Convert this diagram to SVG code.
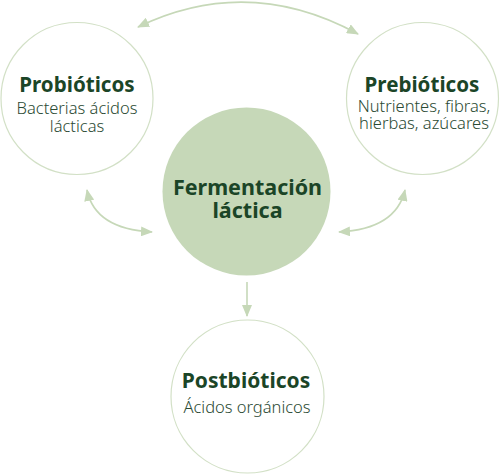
<svg xmlns="http://www.w3.org/2000/svg" width="500" height="475" viewBox="0 0 500 475">
<style>
.ring{fill:#ffffff;stroke:#d2e0c6;stroke-width:1.2}
.core{fill:#c6d8b8}
.title{font-family:"Noto Sans","Open Sans",sans-serif;font-weight:700;fill:#1b4527;text-anchor:middle}
.sub{font-family:"Noto Sans","Open Sans",sans-serif;font-weight:300;fill:#2b4a33;text-anchor:middle;font-size:16.5px}
.conn{fill:none;stroke:#c6d8b8;stroke-width:1.6}
</style>
<defs>
<marker id="ah" viewBox="0 0 12 10" refX="11" refY="5" markerWidth="12" markerHeight="10" markerUnits="userSpaceOnUse" orient="auto-start-reverse">
<path d="M0,0 L12,5 L0,10 z" fill="#c6d8b8"/>
</marker>
</defs>
<g id="connectors">
<path class="conn" d="M138,27 Q248,-26 358,34" marker-start="url(#ah)" marker-end="url(#ah)"/>
<path class="conn" d="M87,190 Q95,229 152,232" marker-start="url(#ah)" marker-end="url(#ah)"/>
<path class="conn" d="M405,190 Q396,229 339,232" marker-start="url(#ah)" marker-end="url(#ah)"/>
<path class="conn" d="M247,282 L247,316" marker-end="url(#ah)"/>
</g>
<g id="probioticos">
<circle class="ring" cx="77" cy="98.5" r="76"/>
<text class="title" x="77" y="92" font-size="20.6">Probióticos</text>
<text class="sub" x="77" y="114">Bacterias ácidos</text>
<text class="sub" x="77" y="132">lácticas</text>
</g>
<g id="prebioticos">
<circle class="ring" cx="422.5" cy="98.5" r="76"/>
<text class="title" x="422" y="92" font-size="20.6">Prebióticos</text>
<text class="sub" x="424" y="112">Nutrientes, fibras,</text>
<text class="sub" x="424" y="129">hierbas, azúcares</text>
</g>
<g id="fermentacion">
<circle class="core" cx="246.5" cy="191.5" r="84"/>
<text class="title" x="247.5" y="195" font-size="21.5">Fermentación</text>
<text class="title" x="247.5" y="218" font-size="21.5">láctica</text>
</g>
<g id="postbioticos">
<circle class="ring" cx="247.5" cy="396.5" r="76.5"/>
<text class="title" x="246" y="388" font-size="21">Postbióticos</text>
<text class="sub" x="247" y="413">Ácidos orgánicos</text>
</g>
</svg>
